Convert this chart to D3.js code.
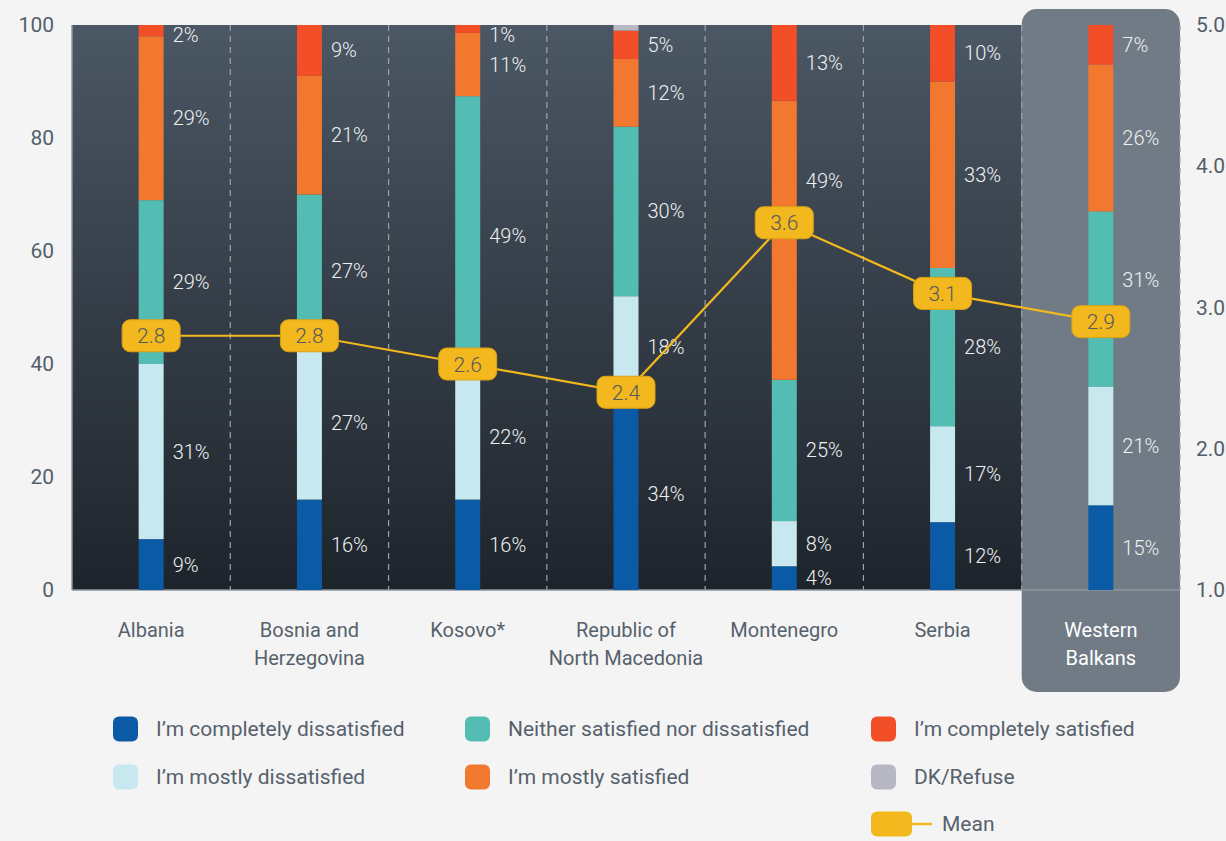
<!DOCTYPE html>
<html>
<head>
<meta charset="utf-8">
<script src="https://cdn.jsdelivr.net/npm/d3@7"></script>
<style>
  body { margin: 0; background: #f4f4f4; }
  svg { display: block; font-family: Roboto, "Noto Sans", sans-serif; }
</style>
</head>
<body>
<script>
// categories and series, bottom to top
var countries = ["Albania", "Bosnia and Herzegovina", "Kosovo*", "Republic of North Macedonia", "Montenegro", "Serbia", "Western Balkans"];
var countryLines = [["Albania"], ["Bosnia and", "Herzegovina"], ["Kosovo*"], ["Republic of", "North Macedonia"], ["Montenegro"], ["Serbia"], ["Western", "Balkans"]];
var seriesNames = ["I\u2019m completely dissatisfied", "I\u2019m mostly dissatisfied", "Neither satisfied nor dissatisfied", "I\u2019m mostly satisfied", "I\u2019m completely satisfied", "DK/Refuse"];

var completelyDissatisfied = [9, 16, 16, 34, 4.2, 12, 15];
var mostlyDissatisfied     = [31, 27, 22, 18, 8, 17, 21];
var neither                = [29, 27, 49.4, 30, 25, 28, 31];
var mostlySatisfied        = [29, 21, 11.2, 12, 49.4, 33, 26];
var completelySatisfied    = [2, 9, 1.4, 5, 13.4, 10, 7];
var dkRefuse               = [0, 0, 0, 1, 0, 0, 0];
var meanValues = [2.8, 2.8, 2.6, 2.4, 3.6, 3.1, 2.9];

var leftTicks = [0, 20, 40, 60, 80, 100];
var rightTicks = [1, 2, 3, 4, 5];

var seriesColors = ["#0a5aa5", "#c6e8ee", "#53bdb3", "#f27830", "#f24e27", "#b8b8c4"];
var meanColor = "#f2b81d";

var W = 1226, H = 841;
var svg = d3.select("body").append("svg").attr("width", W).attr("height", H);

var x = d3.scaleBand().domain(countries).range([72, 1180]).padding(0);
var y = d3.scaleLinear().domain([0, 100]).range([590, 25]);
var y2 = d3.scaleLinear().domain([1, 5]).range([590, 25]);

// gradient for plot background
var defs = svg.append("defs");
var grad = defs.append("linearGradient").attr("id", "bg").attr("x1", 0).attr("y1", 0).attr("x2", 0).attr("y2", 1);
grad.append("stop").attr("offset", "0%").attr("stop-color", "#4b5764");
grad.append("stop").attr("offset", "100%").attr("stop-color", "#1e242b");

var wbX = x("Western Balkans");
svg.append("rect")
  .attr("x", 72).attr("y", y(100))
  .attr("width", wbX - 72).attr("height", y(0) - y(100))
  .attr("fill", "url(#bg)");

// highlighted Western Balkans column
svg.append("rect")
  .attr("x", wbX).attr("y", 9)
  .attr("width", x.bandwidth()).attr("height", 683)
  .attr("rx", 15)
  .attr("fill", "#707b85");

// dashed separators
var seps = countries.slice(1).map(function(c) { return x(c); }).concat([x.range()[1]]);
svg.selectAll(".sep").data(seps).enter().append("line")
  .attr("x1", d => d).attr("x2", d => d)
  .attr("y1", y(100)).attr("y2", y(0))
  .attr("stroke", "#9ba4ad").attr("stroke-width", 1.2)
  .attr("stroke-dasharray", "6,5");

// axis lines
svg.append("line").attr("x1", 72).attr("x2", 72).attr("y1", y(100)).attr("y2", y(0))
  .attr("stroke", "#8d969f").attr("stroke-width", 1.5);
svg.append("line").attr("x1", 72).attr("x2", 1180).attr("y1", y(0)).attr("y2", y(0))
  .attr("stroke", "#8d969f").attr("stroke-width", 1.5);

// left ticks
var leftAxis = svg.append("g").attr("transform", "translate(54,0)")
  .call(d3.axisLeft(y).tickValues(leftTicks).tickSize(0).tickFormat(d3.format("d")));
leftAxis.select(".domain").remove();
leftAxis.selectAll("text").attr("font-size", 21).attr("fill", "#525f6b").attr("font-family", "Roboto").attr("x", 0);

// right ticks
var rightAxis = svg.append("g").attr("transform", "translate(1196,0)")
  .call(d3.axisRight(y2).tickValues(rightTicks).tickSize(0).tickFormat(d3.format(".1f")));
rightAxis.select(".domain").remove();
rightAxis.selectAll("text").attr("font-size", 21).attr("fill", "#525f6b").attr("font-family", "Roboto").attr("x", 0);

// stacked bars
var table = countries.map(function(c, i) {
  return { country: c, s0: completelyDissatisfied[i], s1: mostlyDissatisfied[i], s2: neither[i],
           s3: mostlySatisfied[i], s4: completelySatisfied[i], s5: dkRefuse[i] };
});
var keys = ["s0", "s1", "s2", "s3", "s4", "s5"];
var stacked = d3.stack().keys(keys)(table);
var barW = 25;

var layers = svg.selectAll(".layer").data(stacked).enter().append("g")
  .attr("fill", (d, i) => seriesColors[i]);
layers.selectAll("rect").data(d => d).enter().append("rect")
  .attr("x", d => x(d.data.country) + x.bandwidth() / 2 - barW / 2)
  .attr("y", d => y(d[1]))
  .attr("width", barW)
  .attr("height", d => y(d[0]) - y(d[1]));

// percentage labels, nudged up when they would sit on a mean badge
function labelY(d, i) {
  var ly = Math.max(y((d[0] + d[1]) / 2), 35);
  var my = y2(meanValues[i]);
  if (Math.abs(ly - my) < 30) ly = my - 42;
  return ly;
}
stacked.slice(0, 5).forEach(function(layer) {
  svg.selectAll(null).data(layer).enter().append("text")
    .attr("x", d => x(d.data.country) + x.bandwidth() / 2 + barW / 2 + 9)
    .attr("y", labelY)
    .attr("dy", "0.35em")
    .attr("font-size", 20)
    .attr("font-weight", 300)
    .attr("fill", "#eef0f2")
    .text(d => Math.round(d[1] - d[0]) + "%");
});

// x labels
countryLines.forEach(function(lines, i) {
  var t = svg.append("text")
    .attr("x", x(countries[i]) + x.bandwidth() / 2)
    .attr("y", 637)
    .attr("text-anchor", "middle")
    .attr("font-size", 20)
    .attr("fill", i === 6 ? "#ffffff" : "#56616c");
  lines.forEach(function(l, j) {
    t.append("tspan").attr("x", x(countries[i]) + x.bandwidth() / 2).attr("dy", j === 0 ? 0 : 28).text(l);
  });
});

// mean line
var line = d3.line()
  .x((d, i) => x(countries[i]) + x.bandwidth() / 2)
  .y(d => y2(d));
svg.append("path").datum(meanValues)
  .attr("d", line)
  .attr("fill", "none")
  .attr("stroke", meanColor)
  .attr("stroke-width", 2.2);

var meanG = svg.selectAll(".mean").data(meanValues).enter().append("g")
  .attr("transform", (d, i) => "translate(" + (x(countries[i]) + x.bandwidth() / 2) + "," + y2(d) + ")");
meanG.append("rect")
  .attr("x", -29).attr("y", -16).attr("width", 58).attr("height", 32).attr("rx", 8)
  .attr("fill", meanColor).attr("stroke", "#d9a214").attr("stroke-width", 1);
meanG.append("text")
  .attr("text-anchor", "middle").attr("dy", "0.36em")
  .attr("font-size", 21).attr("font-weight", 300).attr("fill", "#55595d")
  .text(d => d3.format(".1f")(d));

// legend
var legendPos = [[113, 729], [113, 777], [465, 729], [465, 777], [871, 729], [871, 777]];
var order = [0, 1, 2, 3, 4, 5];
var legend = svg.selectAll(".leg").data(order).enter().append("g")
  .attr("transform", d => "translate(" + legendPos[d][0] + "," + legendPos[d][1] + ")");
legend.append("rect")
  .attr("x", 0).attr("y", -12.5).attr("width", 25).attr("height", 25).attr("rx", 6)
  .attr("fill", d => seriesColors[d]);
legend.append("text")
  .attr("x", 43).attr("dy", "0.35em")
  .attr("font-size", 21).attr("fill", "#56616c")
  .text(d => seriesNames[d]);

var meanLeg = svg.append("g").attr("transform", "translate(871,824)");
meanLeg.append("line").attr("x1", 30).attr("x2", 61).attr("y1", 0).attr("y2", 0)
  .attr("stroke", meanColor).attr("stroke-width", 2.5);
meanLeg.append("rect").attr("x", 0).attr("y", -12.5).attr("width", 41).attr("height", 25).attr("rx", 6)
  .attr("fill", meanColor);
meanLeg.append("text").attr("x", 71).attr("dy", "0.35em")
  .attr("font-size", 21).attr("fill", "#56616c").text("Mean");
</script>
</body>
</html>
